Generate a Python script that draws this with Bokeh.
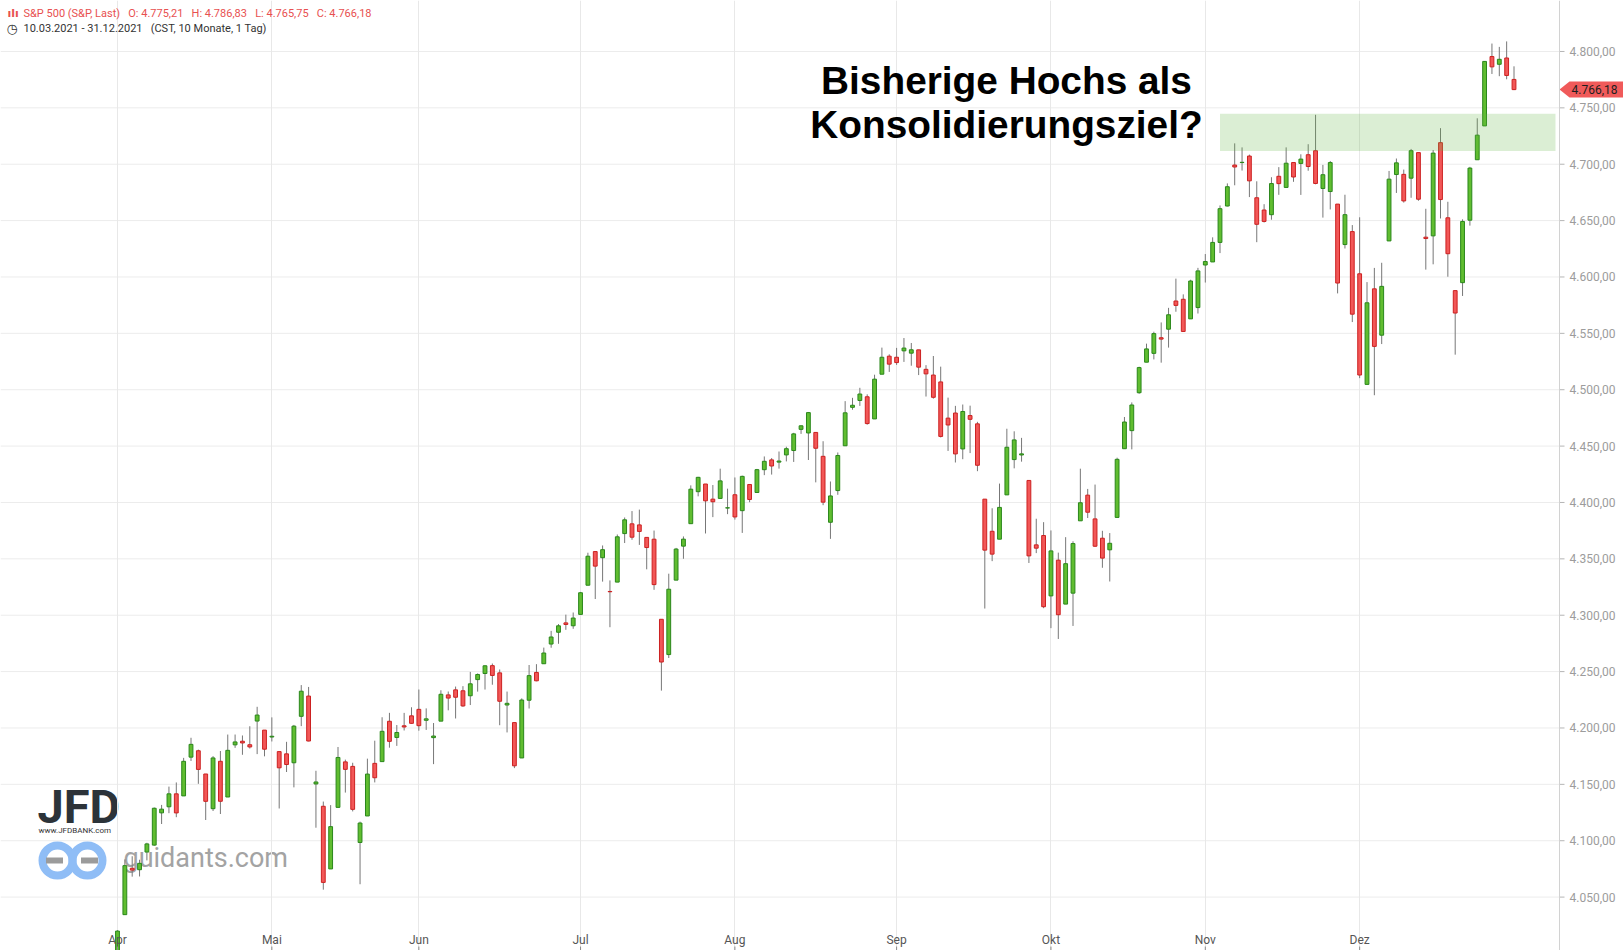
from bokeh.plotting import figure
from bokeh.models import Range1d, FixedTicker, Grid, Span, BoxAnnotation, ColumnDataSource
from bokeh.embed import file_html
from bokeh.resources import INLINE
from bokeh.core.properties import value

# ---------------- data ----------------
month_names = ["Apr", "Mai", "Jun", "Jul", "Aug", "Sep", "Okt", "Nov", "Dez"]
trading_days = [
    [1, 5, 6, 7, 8, 9, 12, 13, 14, 15, 16, 19, 20, 21, 22, 23, 26, 27, 28, 29, 30],
    [3, 4, 5, 6, 7, 10, 11, 12, 13, 14, 17, 18, 19, 20, 21, 24, 25, 26, 27, 28],
    [1, 2, 3, 4, 7, 8, 9, 10, 11, 14, 15, 16, 17, 18, 21, 22, 23, 24, 25, 28, 29, 30],
    [1, 2, 6, 7, 8, 9, 12, 13, 14, 15, 16, 19, 20, 21, 22, 23, 26, 27, 28, 29, 30],
    [2, 3, 4, 5, 6, 9, 10, 11, 12, 13, 16, 17, 18, 19, 20, 23, 24, 25, 26, 27, 30, 31],
    [1, 2, 3, 7, 8, 9, 10, 13, 14, 15, 16, 17, 20, 21, 22, 23, 24, 27, 28, 29, 30],
    [1, 4, 5, 6, 7, 8, 11, 12, 13, 14, 15, 18, 19, 20, 21, 22, 25, 26, 27, 28, 29],
    [1, 2, 3, 4, 5, 8, 9, 10, 11, 12, 15, 16, 17, 18, 19, 22, 23, 24, 26, 29, 30],
    [1, 2, 3, 6, 7, 8, 9, 10, 13, 14, 15, 16, 17, 20, 21, 22, 23, 27, 28, 29, 30, 31],
]

opens = [
    3992.78, 4034.44, 4075.57, 4074.29, 4089.95, 4096.11, 4124.71, 4130.10, 4141.58, 4139.76, 4174.14, 4179.80, 4159.18, 4128.42, 4170.46, 4138.78, 4185.03, 4188.25, 4185.14, 4206.14, 4198.10,
    4191.98, 4179.04, 4177.06, 4169.14, 4210.34, 4228.29, 4150.34, 4130.55, 4074.99, 4129.58, 4169.92, 4165.94, 4098.45, 4121.97, 4168.61, 4170.16, 4205.94, 4191.59, 4201.94, 4210.77,
    4216.52, 4206.82, 4191.43, 4206.05, 4229.34, 4233.81, 4232.99, 4228.56, 4242.90, 4248.31, 4255.28, 4248.87, 4220.37, 4204.78, 4173.40, 4224.61, 4249.27, 4256.97, 4274.45, 4284.90, 4293.21, 4290.65,
    4300.73, 4326.60, 4356.46, 4351.01, 4321.07, 4329.38, 4372.41, 4381.07, 4380.11, 4369.02, 4367.43, 4296.40, 4265.11, 4331.13, 4361.27, 4381.20, 4409.58, 4416.38, 4402.95, 4403.59, 4395.12,
    4406.86, 4392.74, 4415.95, 4408.86, 4429.07, 4437.77, 4435.79, 4442.18, 4446.08, 4464.84, 4461.65, 4462.12, 4440.94, 4382.44, 4410.56, 4450.29, 4484.40, 4490.45, 4493.75, 4474.10, 4513.76, 4529.75,
    4528.80, 4534.48, 4532.42, 4535.38, 4518.09, 4513.02, 4506.92, 4474.81, 4479.33, 4447.49, 4477.09, 4469.74, 4402.95, 4374.45, 4367.43, 4406.75, 4438.04, 4442.12, 4419.54, 4362.41, 4370.67,
    4317.16, 4348.84, 4309.87, 4319.57, 4383.73, 4406.51, 4385.44, 4368.31, 4358.01, 4386.75, 4447.69, 4463.72, 4497.34, 4524.42, 4532.24, 4546.12, 4553.69, 4578.69, 4580.22, 4562.84, 4572.87,
    4610.62, 4613.34, 4630.65, 4662.93, 4699.26, 4701.48, 4707.25, 4670.26, 4659.39, 4655.24, 4689.30, 4679.42, 4701.50, 4700.72, 4708.44, 4712.00, 4678.48, 4675.78, 4664.63, 4628.75, 4640.25,
    4602.82, 4504.73, 4589.49, 4548.37, 4631.97, 4690.86, 4691.00, 4687.64, 4710.30, 4635.30, 4636.46, 4719.13, 4652.50, 4587.90, 4594.96, 4650.36, 4703.96, 4733.99, 4795.49, 4788.64, 4794.23, 4775.21,
]
highs = [
    4020.63, 4083.42, 4086.23, 4083.13, 4098.19, 4129.48, 4131.76, 4148.00, 4151.69, 4173.49, 4191.31, 4180.81, 4159.18, 4175.02, 4179.57, 4194.17, 4194.19, 4193.35, 4201.53, 4218.78, 4198.10,
    4209.39, 4179.04, 4187.72, 4202.70, 4238.04, 4236.39, 4162.04, 4134.73, 4131.58, 4183.13, 4171.92, 4169.15, 4116.93, 4172.80, 4188.72, 4209.52, 4213.42, 4202.61, 4213.38, 4218.36,
    4234.12, 4217.37, 4204.39, 4233.45, 4232.34, 4236.74, 4237.09, 4249.74, 4248.38, 4255.59, 4257.16, 4251.89, 4232.29, 4204.78, 4226.24, 4255.84, 4256.60, 4271.28, 4286.12, 4292.14, 4300.52, 4302.43,
    4320.66, 4355.43, 4356.46, 4361.88, 4330.88, 4371.60, 4386.68, 4392.37, 4393.68, 4369.02, 4375.09, 4296.40, 4336.84, 4359.70, 4369.87, 4415.18, 4422.73, 4416.38, 4415.47, 4429.97, 4412.25,
    4422.18, 4423.79, 4416.17, 4429.76, 4440.82, 4439.39, 4445.21, 4449.44, 4461.77, 4468.37, 4480.26, 4462.12, 4454.32, 4418.61, 4444.35, 4489.88, 4492.81, 4501.71, 4495.90, 4513.33, 4537.36, 4531.39,
    4537.11, 4545.85, 4541.45, 4535.38, 4521.79, 4529.90, 4520.47, 4492.99, 4485.68, 4486.87, 4485.87, 4471.52, 4402.95, 4394.87, 4416.75, 4465.40, 4463.12, 4457.30, 4419.54, 4385.57, 4382.55,
    4375.19, 4355.51, 4369.23, 4365.57, 4429.97, 4412.02, 4415.88, 4374.89, 4372.87, 4439.73, 4475.82, 4488.75, 4520.40, 4540.87, 4551.44, 4559.67, 4572.62, 4598.53, 4584.57, 4597.55, 4608.08,
    4620.34, 4635.15, 4663.46, 4683.00, 4718.50, 4714.92, 4708.53, 4684.85, 4664.55, 4688.47, 4697.42, 4714.95, 4701.50, 4708.80, 4717.75, 4743.83, 4699.39, 4702.87, 4664.63, 4672.95, 4646.02,
    4652.94, 4595.46, 4608.03, 4612.60, 4694.04, 4705.06, 4695.26, 4713.57, 4710.30, 4660.47, 4712.60, 4731.99, 4666.70, 4587.90, 4651.14, 4697.67, 4740.74, 4791.49, 4807.02, 4804.06, 4808.93, 4786.83,
]
lows = [
    3992.78, 4034.44, 4068.14, 4068.31, 4082.54, 4095.51, 4114.82, 4124.43, 4120.87, 4139.76, 4170.75, 4150.47, 4118.38, 4126.35, 4123.69, 4138.78, 4182.36, 4176.22, 4181.78, 4176.81, 4174.85,
    4188.03, 4128.59, 4160.94, 4147.33, 4201.64, 4188.13, 4111.53, 4056.59, 4074.99, 4129.58, 4142.69, 4125.99, 4061.41, 4121.97, 4151.72, 4170.16, 4182.52, 4184.11, 4197.78, 4203.57,
    4197.59, 4198.27, 4167.93, 4206.05, 4215.66, 4208.41, 4218.74, 4220.34, 4232.25, 4234.08, 4238.35, 4202.45, 4196.05, 4164.40, 4173.40, 4217.27, 4241.43, 4256.97, 4271.16, 4274.67, 4287.04, 4287.96,
    4300.73, 4326.60, 4314.37, 4329.79, 4289.37, 4329.38, 4364.03, 4366.92, 4362.36, 4340.70, 4322.53, 4233.13, 4262.05, 4331.13, 4350.06, 4381.20, 4405.45, 4372.51, 4387.01, 4403.59, 4389.65,
    4384.81, 4373.00, 4400.23, 4408.86, 4424.24, 4424.74, 4430.03, 4436.42, 4435.96, 4460.82, 4437.66, 4417.83, 4397.59, 4367.73, 4406.80, 4450.29, 4482.28, 4485.66, 4468.99, 4474.10, 4513.76, 4515.80,
    4522.02, 4524.66, 4521.30, 4513.00, 4493.95, 4492.07, 4457.66, 4445.70, 4435.46, 4438.37, 4443.80, 4427.76, 4305.91, 4347.96, 4367.43, 4406.75, 4430.27, 4436.19, 4346.33, 4355.08, 4306.24,
    4288.52, 4278.94, 4309.87, 4290.49, 4383.73, 4386.22, 4360.59, 4342.09, 4329.92, 4386.75, 4447.69, 4447.10, 4496.41, 4524.40, 4526.89, 4524.00, 4537.36, 4569.17, 4551.66, 4562.84, 4567.59,
    4595.06, 4613.34, 4621.19, 4662.59, 4681.32, 4694.39, 4670.87, 4630.86, 4648.31, 4650.77, 4672.86, 4679.42, 4684.41, 4672.78, 4694.22, 4682.17, 4652.66, 4659.89, 4585.43, 4625.26, 4560.00,
    4510.27, 4504.73, 4495.12, 4540.51, 4631.97, 4674.52, 4665.98, 4670.24, 4667.60, 4606.52, 4611.22, 4651.89, 4600.22, 4531.10, 4583.16, 4645.53, 4703.96, 4733.99, 4780.04, 4778.08, 4775.33, 4765.75,
]
closes = [
    4019.87, 4077.91, 4073.94, 4079.95, 4097.17, 4128.80, 4127.99, 4141.59, 4124.66, 4170.42, 4185.47, 4163.26, 4134.94, 4173.42, 4134.98, 4180.17, 4187.62, 4186.72, 4183.18, 4211.47, 4181.17,
    4192.66, 4164.66, 4167.59, 4201.62, 4232.60, 4188.43, 4152.10, 4063.04, 4112.50, 4173.85, 4163.29, 4127.83, 4115.68, 4159.12, 4155.86, 4197.05, 4188.13, 4195.99, 4200.88, 4204.11,
    4202.04, 4208.12, 4192.85, 4229.89, 4226.52, 4227.26, 4219.55, 4239.18, 4247.44, 4255.15, 4246.59, 4223.70, 4221.86, 4166.45, 4224.79, 4246.44, 4241.84, 4266.49, 4280.70, 4290.61, 4291.80, 4297.50,
    4319.94, 4352.34, 4343.54, 4358.13, 4320.82, 4369.55, 4384.63, 4369.21, 4374.30, 4360.03, 4327.16, 4258.49, 4323.06, 4358.69, 4367.48, 4411.79, 4422.30, 4401.46, 4400.64, 4419.15, 4395.26,
    4387.16, 4423.15, 4402.66, 4429.10, 4436.52, 4432.35, 4436.75, 4447.70, 4460.83, 4468.00, 4479.71, 4448.08, 4400.27, 4405.80, 4441.67, 4479.53, 4486.23, 4496.19, 4470.00, 4509.37, 4528.79, 4522.68,
    4524.09, 4536.95, 4535.43, 4520.03, 4514.07, 4493.28, 4458.58, 4468.73, 4443.05, 4480.70, 4473.75, 4432.99, 4357.73, 4354.19, 4395.64, 4448.98, 4455.48, 4443.11, 4352.63, 4359.46, 4307.54,
    4357.04, 4300.46, 4345.72, 4363.55, 4399.76, 4391.34, 4361.19, 4350.65, 4363.80, 4438.26, 4471.37, 4486.46, 4519.63, 4536.19, 4549.78, 4544.90, 4566.48, 4574.79, 4551.68, 4596.42, 4605.38,
    4613.67, 4630.65, 4660.57, 4680.06, 4697.53, 4701.70, 4685.25, 4646.71, 4649.27, 4682.85, 4682.80, 4700.90, 4688.67, 4704.54, 4697.96, 4682.94, 4690.70, 4701.46, 4594.62, 4655.27, 4567.00,
    4513.04, 4577.10, 4538.43, 4591.67, 4686.75, 4701.21, 4667.45, 4712.02, 4668.97, 4634.09, 4709.85, 4668.67, 4620.64, 4568.02, 4649.23, 4696.56, 4725.79, 4791.19, 4786.35, 4793.06, 4778.73, 4766.18,
]

ytick_values = [4050, 4100, 4150, 4200, 4250, 4300, 4350, 4400, 4450, 4500, 4550, 4600, 4650, 4700, 4750, 4800]
ytick_labels = ["4.050,00", "4.100,00", "4.150,00", "4.200,00", "4.250,00", "4.300,00", "4.350,00", "4.400,00",
                "4.450,00", "4.500,00", "4.550,00", "4.600,00", "4.650,00", "4.700,00", "4.750,00", "4.800,00"]

zone_start_date = "2021-11-03"
zone_low, zone_high = 4711.8, 4744.8
last_price_label = "4.766,18"
last_price = 4766.18

NB = "\u00a0"
header_line1 = ("S&P 500 (S&P, Last)" + NB * 3 + "O: 4.775,21" + NB * 3 + "H: 4.786,83"
                + NB * 3 + "L: 4.765,75" + NB * 3 + "C: 4.766,18")
header_line2 = "10.03.2021 - 31.12.2021" + NB * 3 + "(CST, 10 Monate, 1 Tag)"
note_lines = ["Bisherige Hochs als", "Konsolidierungsziel?"]

# ---------------- derived ----------------
dates = ["2021-%02d-%02d" % (m + 4, d) for m, days in enumerate(trading_days) for d in days]
n = min(len(dates), len(opens), len(highs), len(lows), len(closes))
dates = dates[:n]
xs = list(range(n))
month_x = []
prev_m = None
for i, dt in enumerate(dates):
    m = dt[5:7]
    if m != prev_m:
        month_x.append(i)
        prev_m = m

GREEN_FILL, GREEN_LINE = "#60bd30", "#2a871b"
RED_FILL, RED_LINE = "#f25757", "#cc2121"
src = ColumnDataSource(dict(
    x=xs,
    high=highs[:n],
    low=lows[:n],
    top=[max(o, c) for o, c in zip(opens[:n], closes[:n])],
    bottom=[min(o, c) for o, c in zip(opens[:n], closes[:n])],
    fill=[GREEN_FILL if c >= o else RED_FILL for o, c in zip(opens[:n], closes[:n])],
    line=[GREEN_LINE if c >= o else RED_LINE for o, c in zip(opens[:n], closes[:n])],
))

# ---------------- figure (frame fills the whole page) ----------------
W, H = 1623, 950
PX = 7.35           # pixels per trading day
X_FIRST = 117       # pixel of the first candle
AXIS_PX = 1559      # pixel of the price axis line
X0 = (0 - X_FIRST) / PX
X1 = (W - X_FIRST) / PX
AXIS_X = (AXIS_PX - X_FIRST) / PX
PPU = 1.1275        # pixels per index point
Y_REF_PRICE, Y_REF_PX = 4050, 896.6
Y0 = Y_REF_PRICE - (H - Y_REF_PX) / PPU
Y1 = Y_REF_PRICE + Y_REF_PX / PPU

p = figure(width=W, height=H, output_backend="svg", toolbar_location=None,
           x_axis_type=None, y_axis_type=None,
           x_range=Range1d(X0, X1), y_range=Range1d(Y0, Y1),
           min_border_left=0, min_border_top=0, min_border_bottom=0, min_border_right=0,
           background_fill_color="white", border_fill_color="white", outline_line_color=None)
# pixel space (y downwards) for decorations
p.extra_x_ranges = {"px": Range1d(0, W)}
p.extra_y_ranges = {"py": Range1d(H, 0)}

# grid
xg = Grid(dimension=0, ticker=FixedTicker(ticks=month_x), grid_line_color="#e8e8e8", grid_line_width=1)
p.add_layout(xg)
nt = len(ytick_values)
p.segment(x0=[X0] * nt, x1=[AXIS_X] * nt, y0=ytick_values, y1=ytick_values,
          line_color="#ececec", line_width=1, level="underlay")

# ---------------- watermarks (behind candles) ----------------
p.text(x=[37], y=[806], text=["JFD"], x_range_name="px", y_range_name="py",
       text_font=value("Roboto"), text_font_style=value("bold"), text_font_size=value("47px"),
       text_color="#2c3339", text_baseline="middle", text_align="left", level="underlay")
p.text(x=[38], y=[830], text=["www.JFDBANK.com"], x_range_name="px", y_range_name="py",
       text_font=value("Roboto"), text_font_size=value("8px"),
       text_color="#333333", text_baseline="middle", text_align="left", level="underlay")
p.scatter(x=[57, 87], y=[860, 860], marker="circle", size=30,
          fill_color=None, line_color="#8fbdf6", line_width=8,
          x_range_name="px", y_range_name="py", level="underlay")
p.scatter(x=[54, 89], y=[860, 860], marker="dash", size=17,
          line_color="#9b9b9b", line_width=6,
          x_range_name="px", y_range_name="py", level="underlay")
p.text(x=[123], y=[857], text=["guidants.com"], x_range_name="px", y_range_name="py",
       text_font=value("Roboto"), text_font_size=value("27px"),
       text_color="#a3a3a3", text_baseline="middle", text_align="left", level="underlay")

# ---------------- candles ----------------
p.segment(x0="x", y0="low", x1="x", y1="high", source=src, line_color="#777777", line_width=1)
p.vbar(x="x", width=0.52, top="top", bottom="bottom", source=src,
       fill_color="fill", line_color="line", line_width=1)

# ---------------- zone ----------------
zone_left = dates.index(zone_start_date)
p.add_layout(BoxAnnotation(left=zone_left, right=(1555 - X_FIRST) / PX, bottom=zone_low, top=zone_high,
                           fill_color="#64b446", fill_alpha=0.23, line_color=None))

# ---------------- month labels and ticks ----------------
nm = len(month_x)
p.text(x=month_x, y=[Y0] * nm, text=month_names[:nm], y_offset=-4,
       text_align="center", text_baseline="bottom", text_font=value("Roboto"),
       text_font_size=value("12px"), text_color="#555555")
p.segment(x0=month_x, x1=month_x, y0=[Y0] * nm, y1=[Y0 + 3.5] * nm, line_color="#8a8a8a", line_width=1)

# ---------------- price axis (right) ----------------
p.add_layout(Span(location=AXIS_X, dimension="height", line_color="#d2d2d2", line_width=1))
p.segment(x0=[AXIS_X] * nt, x1=[AXIS_X + 5 / PX] * nt, y0=ytick_values, y1=ytick_values,
          line_color="#b5b5b5", line_width=1)
p.text(x=[AXIS_X + 10 / PX] * nt, y=ytick_values, text=ytick_labels,
       text_align="left", text_baseline="middle", text_font=value("Roboto"),
       text_font_size=value("12px"), text_color="#9c9c9c")

# last price tag
tag_y = (Y1 - last_price) / (Y1 - Y0) * H
p.patch(x=[AXIS_PX, AXIS_PX + 10, W, W, AXIS_PX + 10],
        y=[tag_y, tag_y - 8, tag_y - 8, tag_y + 8, tag_y + 8],
        x_range_name="px", y_range_name="py", fill_color="#f05a5a", line_color=None)
p.text(x=[AXIS_PX + 12], y=[tag_y], text=[last_price_label], x_range_name="px", y_range_name="py",
       text_align="left", text_baseline="middle", text_font=value("Roboto"),
       text_font_size=value("12px"), text_color="#1e1e1e")

# ---------------- header & note ----------------
p.text(x=[7], y=[13], text=["ılı"], x_range_name="px", y_range_name="py",
       text_font=value("DejaVu Sans"), text_font_style=value("bold"), text_font_size=value("11px"),
       text_color="#e85050", text_baseline="middle", text_align="left")
p.text(x=[23], y=[13], text=[header_line1], x_range_name="px", y_range_name="py",
       text_font=value("Roboto"), text_font_size=value("11px"),
       text_color="#e85050", text_baseline="middle", text_align="left")
p.text(x=[6], y=[28], text=["◷"], x_range_name="px", y_range_name="py",
       text_font=value("DejaVu Sans"), text_font_size=value("13px"),
       text_color="#333333", text_baseline="middle", text_align="left")
p.text(x=[23], y=[28], text=[header_line2], x_range_name="px", y_range_name="py",
       text_font=value("Roboto"), text_font_size=value("11px"),
       text_color="#333333", text_baseline="middle", text_align="left")

p.text(x=[1006, 1006], y=[80, 124], text=note_lines, x_range_name="px", y_range_name="py",
       text_font=value("Liberation Sans"), text_font_style=value("bold"), text_font_size=value("38.8px"),
       text_color="#000000", text_baseline="middle", text_align="center")

open("out.html", "w").write(file_html(p, INLINE, title="S&P 500"))
